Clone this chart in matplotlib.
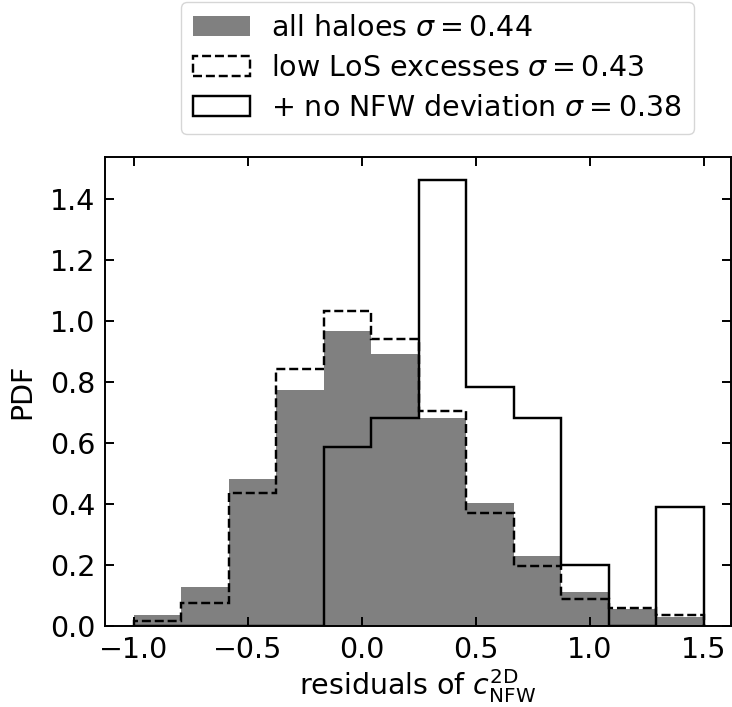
import numpy as np
import matplotlib
matplotlib.use("Agg")
import matplotlib.pyplot as plt

# bin edges of the histograms
bin_edges = np.linspace(-1.0, 1.5, 13)

# PDF values per bin
all_haloes = [0.035, 0.127, 0.481, 0.774, 0.967, 0.891, 0.681, 0.404, 0.230, 0.112, 0.057, 0.031]
low_los = [0.015, 0.076, 0.437, 0.843, 1.033, 0.941, 0.705, 0.371, 0.198, 0.088, 0.060, 0.036]
no_nfw_dev = [0.0, 0.0, 0.0, 0.0, 0.588, 0.683, 1.462, 0.783, 0.683, 0.200, 0.0, 0.391]

labels = [r"all haloes $\sigma = 0.44$",
          r"low LoS excesses $\sigma = 0.43$",
          r"+ no NFW deviation $\sigma = 0.38$"]

xticks = [-1.0, -0.5, 0.0, 0.5, 1.0, 1.5]
yticks = [0.0, 0.2, 0.4, 0.6, 0.8, 1.0, 1.2, 1.4]

FS = 20.5
plt.rcParams['font.family'] = ['DejaVu Sans']
plt.rcParams['mathtext.fontset'] = 'dejavusans'

W, H = 732, 707
fig = plt.figure(figsize=(W / 100, H / 100), dpi=100)
ax = fig.add_axes([105 / W, 81 / H, (731 - 105) / W, 469 / H])

centers = 0.5 * (bin_edges[:-1] + bin_edges[1:])
ax.hist(centers, bins=bin_edges, weights=all_haloes, histtype='stepfilled',
        color='grey', label=labels[0])
ax.hist(centers, bins=bin_edges, weights=low_los, histtype='step',
        color='black', linestyle='--', linewidth=1.75, label=labels[1])
ax.hist(centers, bins=bin_edges, weights=no_nfw_dev, histtype='step',
        color='black', linestyle='-', linewidth=1.75, label=labels[2])

ax.set_xlim(-1.125, 1.62)
ax.set_ylim(0, 1.537)
ax.set_xticks(xticks)
ax.set_yticks(yticks)
ax.tick_params(direction='in', top=True, right=True, length=6.5, width=1.4,
               labelsize=FS, pad=7)
for s in ax.spines.values():
    s.set_linewidth(1.4)

ax.set_xlabel(r"residuals of $c_{\rm NFW}^{\rm 2D}$", fontsize=FS, labelpad=2.5)
ax.set_ylabel("PDF", fontsize=FS, labelpad=10)

fig.legend(loc='upper left', bbox_to_anchor=(181 / W, 1 - 2 / H), fontsize=FS,
           handlelength=2.0, labelspacing=0.42, borderpad=0.42, handletextpad=0.75,
           borderaxespad=0.0)

fig.savefig("out.png", dpi=100)
